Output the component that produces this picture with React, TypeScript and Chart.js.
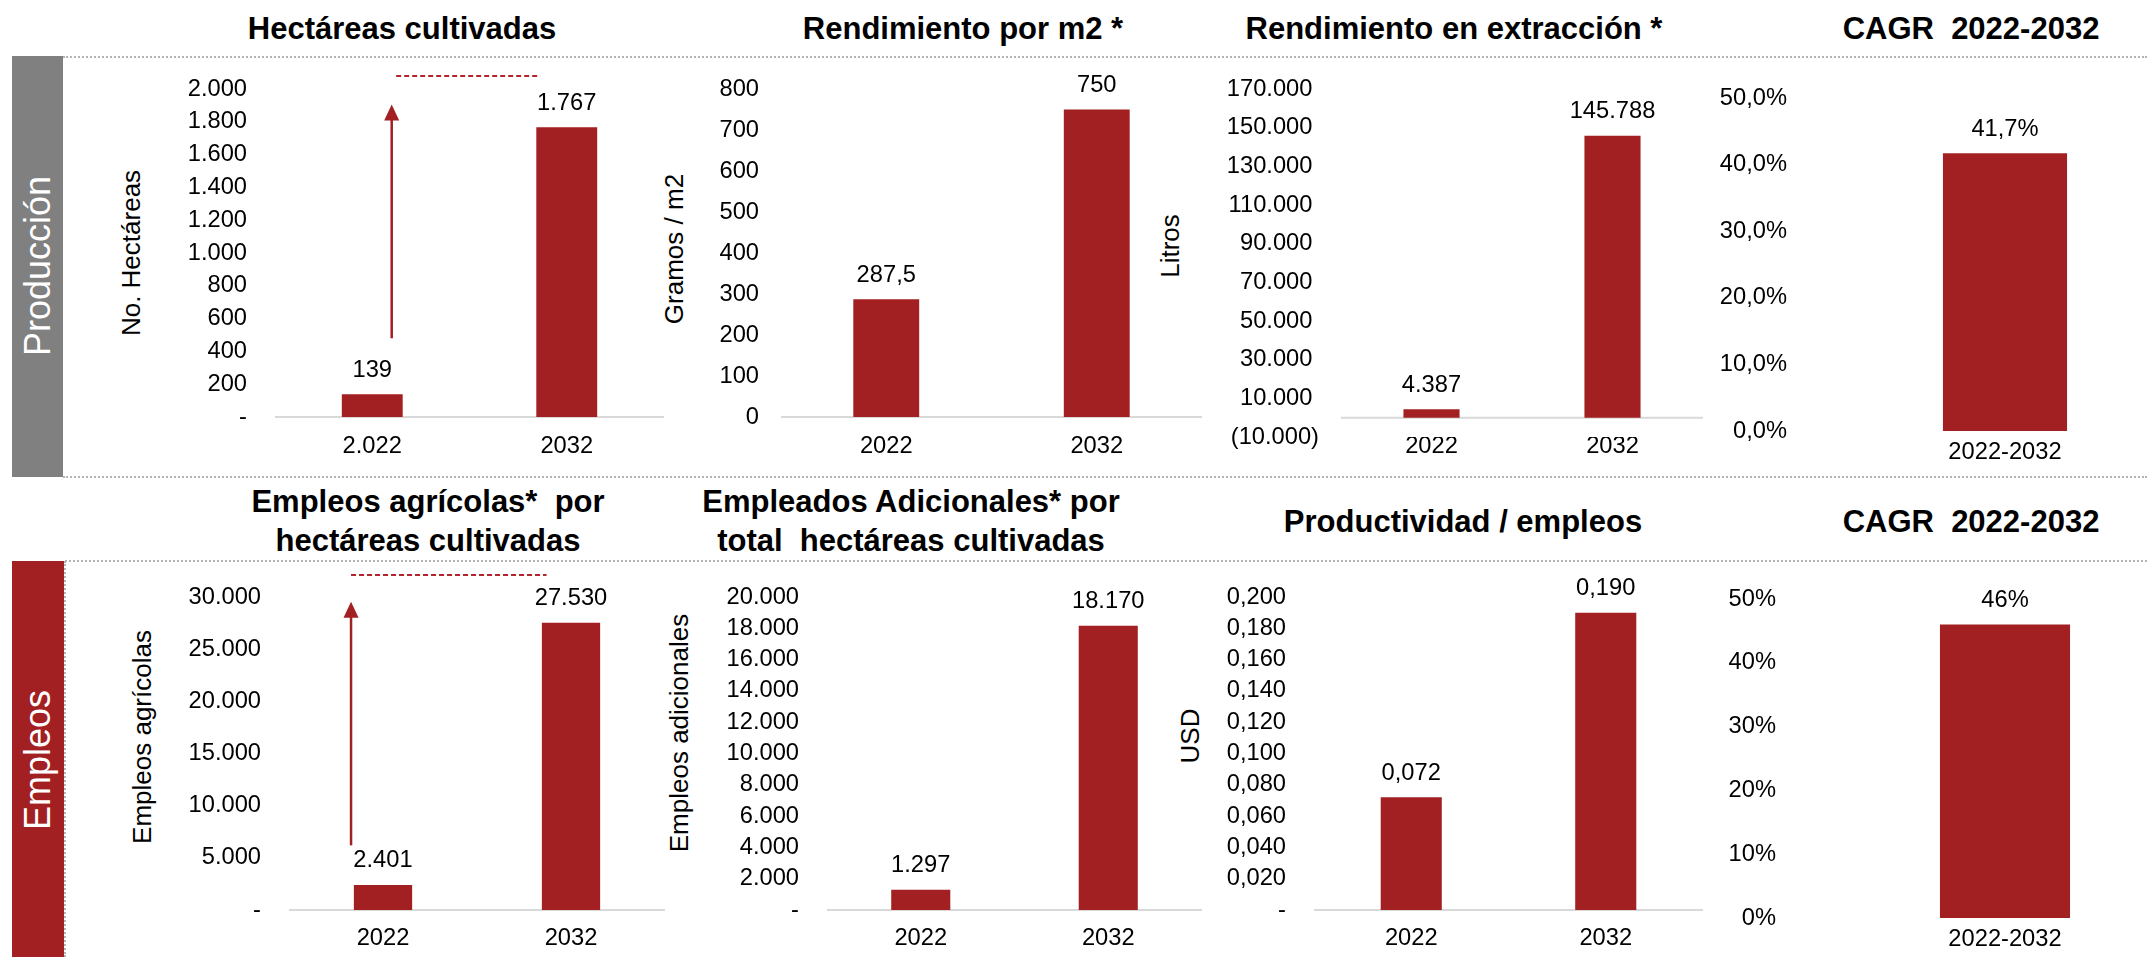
import React, { useEffect, useRef } from "react";
import { Chart, registerables } from "chart.js";

Chart.register(...registerables);

// ---------- DATA ----------
const yearLabels = ["2022", "2032"];
const hectareasYearLabels = ["2.022", "2032"];
const cagrLabels = ["2022-2032"];

const hectareas = [139, 1767];
const gramosM2 = [287.5, 750];
const litros = [4387, 145788];
const cagrProduccion = [0.417];
const empleosAgricolas = [2401, 27530];
const empleadosAdicionales = [1297, 18170];
const productividad = [0.072, 0.19];
const cagrEmpleos = [0.46];

const hectareasTicks = [0, 200, 400, 600, 800, 1000, 1200, 1400, 1600, 1800, 2000];
const gramosTicks = [0, 100, 200, 300, 400, 500, 600, 700, 800];
const litrosTicks = [-10000, 10000, 30000, 50000, 70000, 90000, 110000, 130000, 150000, 170000];
const pctTicks = [0, 0.1, 0.2, 0.3, 0.4, 0.5];
const empleosTicks = [0, 5000, 10000, 15000, 20000, 25000, 30000];
const adicionalesTicks = [0, 2000, 4000, 6000, 8000, 10000, 12000, 14000, 16000, 18000, 20000];
const productividadTicks = [0, 0.02, 0.04, 0.06, 0.08, 0.1, 0.12, 0.14, 0.16, 0.18, 0.2];

// annotation shapes, in scale units (category index, value)
const hectareasArrow = { x: 0.1, from: 480, to: 1905 };
const hectareasDash = { y: 2080, x0: 0.123, x1: 0.864 };
const empleosArrow = { x: -0.17, from: 6200, to: 29550 };
const empleosDash = { y: 32100, x0: -0.17, x1: 0.87 };

// ---------- STYLE ----------
const FONT = '"Liberation Sans", Arial, Helvetica, sans-serif';
const BAR = "#A21F22";
const ARROW = "#A21F22";
const DASH = "#B3262B";
const TICK_SIZE = 23.7;
const TITLE_SIZE = 31;
const AXIS_TITLE_SIZE = 26;

Chart.defaults.font.family = FONT;

// ---------- FORMATTERS ----------
function thousands(n: number): string {
  const s = Math.round(Math.abs(n)).toString();
  return s.replace(/\B(?=(\d{3})+(?!\d))/g, ".");
}
const dashZero = (f: (v: number) => string) => (v: number) => (Math.abs(v) < 1e-9 ? "-" : f(v));
const commaDec = (v: number) => (Number.isInteger(v) ? String(v) : String(v).replace(".", ","));
const pct1 = (v: number) => (v * 100).toFixed(1).replace(".", ",") + "%";
const pct0 = (v: number) => Math.round(v * 100) + "%";
const dec3 = (v: number) => v.toFixed(3).replace(".", ",");
const paren = (v: number) => (v < 0 ? "(" + thousands(v) + ")" : thousands(v) + " ");

type Spec = {
  labels: string[];
  values: number[];
  ticks: number[];
  tickFmt: (v: number) => string;
  valueFmt: (v: number) => string;
  canvas: number[]; // l, t, r, b
  area: number[]; // l, t, r, b
  labelRight: number;
  xLabelY: number;
  barPct: number;
  baseline: boolean;
  arrow?: { x: number; from: number; to: number };
  dash?: { y: number; x0: number; x1: number };
};

const specs: Spec[] = [
  {
    labels: hectareasYearLabels, values: hectareas, ticks: hectareasTicks,
    tickFmt: dashZero(thousands), valueFmt: thousands,
    canvas: [62, 60, 700, 476], area: [275, 89, 664, 417], labelRight: 247, xLabelY: 446,
    barPct: 0.313, baseline: true, arrow: hectareasArrow, dash: hectareasDash,
  },
  {
    labels: yearLabels, values: gramosM2, ticks: gramosTicks,
    tickFmt: (v) => String(v), valueFmt: commaDec,
    canvas: [700, 60, 1230, 476], area: [781, 89, 1202, 417], labelRight: 759, xLabelY: 446,
    barPct: 0.313, baseline: true,
  },
  {
    labels: yearLabels, values: litros, ticks: litrosTicks,
    tickFmt: paren, valueFmt: thousands,
    canvas: [1200, 60, 1710, 476], area: [1341, 89, 1703, 437], labelRight: 1319, xLabelY: 446,
    barPct: 0.31, baseline: true,
  },
  {
    labels: cagrLabels, values: cagrProduccion, ticks: pctTicks,
    tickFmt: pct1, valueFmt: pct1,
    canvas: [1710, 60, 2147, 476], area: [1863, 98, 2147, 431], labelRight: 1787, xLabelY: 452,
    barPct: 0.437, baseline: false,
  },
  {
    labels: yearLabels, values: empleosAgricolas, ticks: empleosTicks,
    tickFmt: dashZero(thousands), valueFmt: thousands,
    canvas: [66, 565, 700, 957], area: [289, 597, 665, 910], labelRight: 261, xLabelY: 938,
    barPct: 0.31, baseline: true, arrow: empleosArrow, dash: empleosDash,
  },
  {
    labels: yearLabels, values: empleadosAdicionales, ticks: adicionalesTicks,
    tickFmt: dashZero(thousands), valueFmt: thousands,
    canvas: [700, 565, 1230, 957], area: [827, 597, 1202, 910], labelRight: 799, xLabelY: 938,
    barPct: 0.315, baseline: true,
  },
  {
    labels: yearLabels, values: productividad, ticks: productividadTicks,
    tickFmt: dashZero(dec3), valueFmt: dec3,
    canvas: [1200, 565, 1710, 957], area: [1314, 597, 1703, 910], labelRight: 1286, xLabelY: 938,
    barPct: 0.314, baseline: true,
  },
  {
    labels: cagrLabels, values: cagrEmpleos, ticks: pctTicks,
    tickFmt: pct0, valueFmt: pct0,
    canvas: [1710, 565, 2147, 957], area: [1863, 599, 2147, 918], labelRight: 1776, xLabelY: 939,
    barPct: 0.458, baseline: false,
  },
];

function decorPlugin(s: Spec, id: number) {
  return {
    id: "decor" + id,
    beforeDatasetsDraw(chart: any) {
      if (!s.baseline) return;
      const { ctx, chartArea } = chart;
      const y = chart.scales.y.getPixelForValue(0);
      ctx.save();
      ctx.strokeStyle = "#D9D9D9";
      ctx.lineWidth = 2;
      ctx.beginPath();
      ctx.moveTo(chartArea.left, y);
      ctx.lineTo(chartArea.right, y);
      ctx.stroke();
      ctx.restore();
    },
    afterDatasetsDraw(chart: any) {
      const { ctx } = chart;
      const xs = chart.scales.x;
      const ys = chart.scales.y;
      ctx.save();
      ctx.font = `${TICK_SIZE}px ${FONT}`;
      ctx.fillStyle = "#000";
      ctx.textAlign = "center";
      ctx.textBaseline = "middle";
      const meta = chart.getDatasetMeta(0);
      meta.data.forEach((el: any, i: number) => {
        ctx.fillText(s.valueFmt(s.values[i]), el.x, el.y - 24);
      });
      if (s.arrow) {
        const x = xs.getPixelForValue(s.arrow.x);
        const y0 = ys.getPixelForValue(s.arrow.from);
        const yt = ys.getPixelForValue(s.arrow.to);
        ctx.strokeStyle = ARROW;
        ctx.fillStyle = ARROW;
        ctx.lineWidth = 2.5;
        ctx.beginPath();
        ctx.moveTo(x, y0);
        ctx.lineTo(x, yt + 14);
        ctx.stroke();
        ctx.beginPath();
        ctx.moveTo(x, yt);
        ctx.lineTo(x - 7.5, yt + 16);
        ctx.lineTo(x + 7.5, yt + 16);
        ctx.closePath();
        ctx.fill();
      }
      if (s.dash) {
        const y = ys.getPixelForValue(s.dash.y);
        ctx.strokeStyle = DASH;
        ctx.lineWidth = 2;
        ctx.setLineDash([5, 3]);
        ctx.beginPath();
        ctx.moveTo(xs.getPixelForValue(s.dash.x0), y);
        ctx.lineTo(xs.getPixelForValue(s.dash.x1), y);
        ctx.stroke();
      }
      ctx.restore();
    },
  };
}

const zeroPad = (sc: any) => {
  sc.paddingTop = 0;
  sc.paddingBottom = 0;
  sc.paddingLeft = 0;
  sc.paddingRight = 0;
};

function buildConfig(s: Spec, id: number): any {
  const [cl, ct, cr, cb] = s.canvas;
  const [al, at, ar, ab] = s.area;
  const yWidth = al - cl;
  const xHeight = cb - ab;
  const tickFont = { family: FONT, size: TICK_SIZE };
  return {
    type: "bar",
    data: {
      labels: s.labels,
      datasets: [
        {
          data: s.values,
          backgroundColor: BAR,
          barPercentage: s.barPct,
          categoryPercentage: 1,
        },
      ],
    },
    options: {
      responsive: false,
      maintainAspectRatio: false,
      animation: false,
      devicePixelRatio: 1,
      layout: { padding: { top: at - ct, right: cr - ar, left: 0, bottom: 0 } },
      plugins: { legend: { display: false }, tooltip: { enabled: false }, title: { display: false } },
      scales: {
        x: {
          type: "category",
          offset: true,
          grid: { display: false, drawTicks: false },
          border: { display: false },
          ticks: {
            color: "#000",
            font: tickFont,
            padding: s.xLabelY - ab - TICK_SIZE * 0.6,
            maxRotation: 0,
            autoSkip: false,
          },
          afterFit: (sc: any) => {
            sc.height = xHeight;
            zeroPad(sc);
          },
        },
        y: {
          type: "linear",
          min: s.ticks[0],
          max: s.ticks[s.ticks.length - 1],
          afterBuildTicks: (sc: any) => {
            sc.ticks = s.ticks.map((v) => ({ value: v }));
          },
          grid: { display: false, drawTicks: false },
          border: { display: false },
          ticks: {
            color: "#000",
            font: tickFont,
            padding: al - s.labelRight,
            autoSkip: false,
            callback: (v: any) => s.tickFmt(Number(v)),
          },
          afterFit: (sc: any) => {
            sc.width = yWidth;
            zeroPad(sc);
          },
        },
      },
    },
    plugins: [decorPlugin(s, id)],
  };
}

function BarPanel({ spec, id }: { spec: Spec; id: number }) {
  const ref = useRef<HTMLCanvasElement>(null);
  const [cl, ct, cr, cb] = spec.canvas;
  const w = cr - cl;
  const h = cb - ct;
  useEffect(() => {
    if (!ref.current) return;
    const chart = new Chart(ref.current, buildConfig(spec, id));
    return () => chart.destroy();
  }, []);
  return (
    <canvas
      ref={ref}
      width={w}
      height={h}
      style={{ position: "absolute", left: cl, top: ct, width: w, height: h }}
    />
  );
}

const titleStyle = (cx: number, top: number, lh: number): React.CSSProperties => ({
  position: "absolute",
  left: cx,
  top,
  transform: "translateX(-50%)",
  fontFamily: FONT,
  fontWeight: "bold",
  fontSize: TITLE_SIZE,
  lineHeight: lh + "px",
  whiteSpace: "pre",
  textAlign: "center",
  color: "#000",
});

const vText = (cx: number, cy: number, size: number, color: string): React.CSSProperties => ({
  position: "absolute",
  left: cx,
  top: cy,
  transform: "translate(-50%, -50%) rotate(-90deg)",
  fontFamily: FONT,
  fontSize: size,
  lineHeight: size + "px",
  whiteSpace: "nowrap",
  color,
});

const hLine = (x0: number, x1: number, y: number): React.CSSProperties => ({
  position: "absolute",
  left: x0,
  top: y - 1,
  width: x1 - x0,
  height: 0,
  borderTop: "2px dotted #B4B4B4",
});

export default function App() {
  return (
    <div
      style={{
        position: "absolute",
        left: 0,
        top: 0,
        width: 2147,
        height: 957,
        overflow: "hidden",
        background: "#fff",
        fontFamily: FONT,
      }}
    >
      {/* section boxes */}
      <div style={{ position: "absolute", left: 12, top: 56, width: 51, height: 421, background: "#808080" }} />
      <div style={vText(38, 266, 36, "#fff")}>Producción</div>
      <div style={{ position: "absolute", left: 12, top: 561, width: 52, height: 396, background: BAR }} />
      <div style={vText(38, 760, 36, "#fff")}>Empleos</div>

      {/* dotted separators */}
      <div style={hLine(63, 2147, 57)} />
      <div style={hLine(63, 2147, 477)} />
      <div style={hLine(65, 2147, 561)} />
      <div
        style={{ position: "absolute", left: 64, top: 561, width: 0, height: 396, borderLeft: "2px dotted #B4B4B4" }}
      />

      {/* titles */}
      <div style={titleStyle(402, 12.7, TITLE_SIZE)}>Hectáreas cultivadas</div>
      <div style={titleStyle(963, 12.7, TITLE_SIZE)}>Rendimiento por m2 *</div>
      <div style={titleStyle(1454, 12.7, TITLE_SIZE)}>Rendimiento en extracción *</div>
      <div style={titleStyle(1971, 12.7, TITLE_SIZE)}>{"CAGR  2022-2032"}</div>

      <div style={titleStyle(428, 483.3, 38.5)}>{"Empleos agrícolas*  por\nhectáreas cultivadas"}</div>
      <div style={titleStyle(911, 483.3, 38.5)}>{"Empleados Adicionales* por\ntotal  hectáreas cultivadas"}</div>
      <div style={titleStyle(1463, 505.5, TITLE_SIZE)}>Productividad / empleos</div>
      <div style={titleStyle(1971, 505.5, TITLE_SIZE)}>{"CAGR  2022-2032"}</div>

      {/* axis titles */}
      <div style={vText(131, 253, AXIS_TITLE_SIZE, "#000")}>No. Hectáreas</div>
      <div style={vText(674, 249, AXIS_TITLE_SIZE, "#000")}>Gramos / m2</div>
      <div style={vText(1170, 246, AXIS_TITLE_SIZE, "#000")}>Litros</div>
      <div style={vText(142, 737, AXIS_TITLE_SIZE, "#000")}>Empleos agrícolas</div>
      <div style={vText(679, 733, AXIS_TITLE_SIZE, "#000")}>Empleos adicionales</div>
      <div style={vText(1190, 736, AXIS_TITLE_SIZE, "#000")}>USD</div>

      {specs.map((s, i) => (
        <BarPanel key={i} spec={s} id={i} />
      ))}
    </div>
  );
}
